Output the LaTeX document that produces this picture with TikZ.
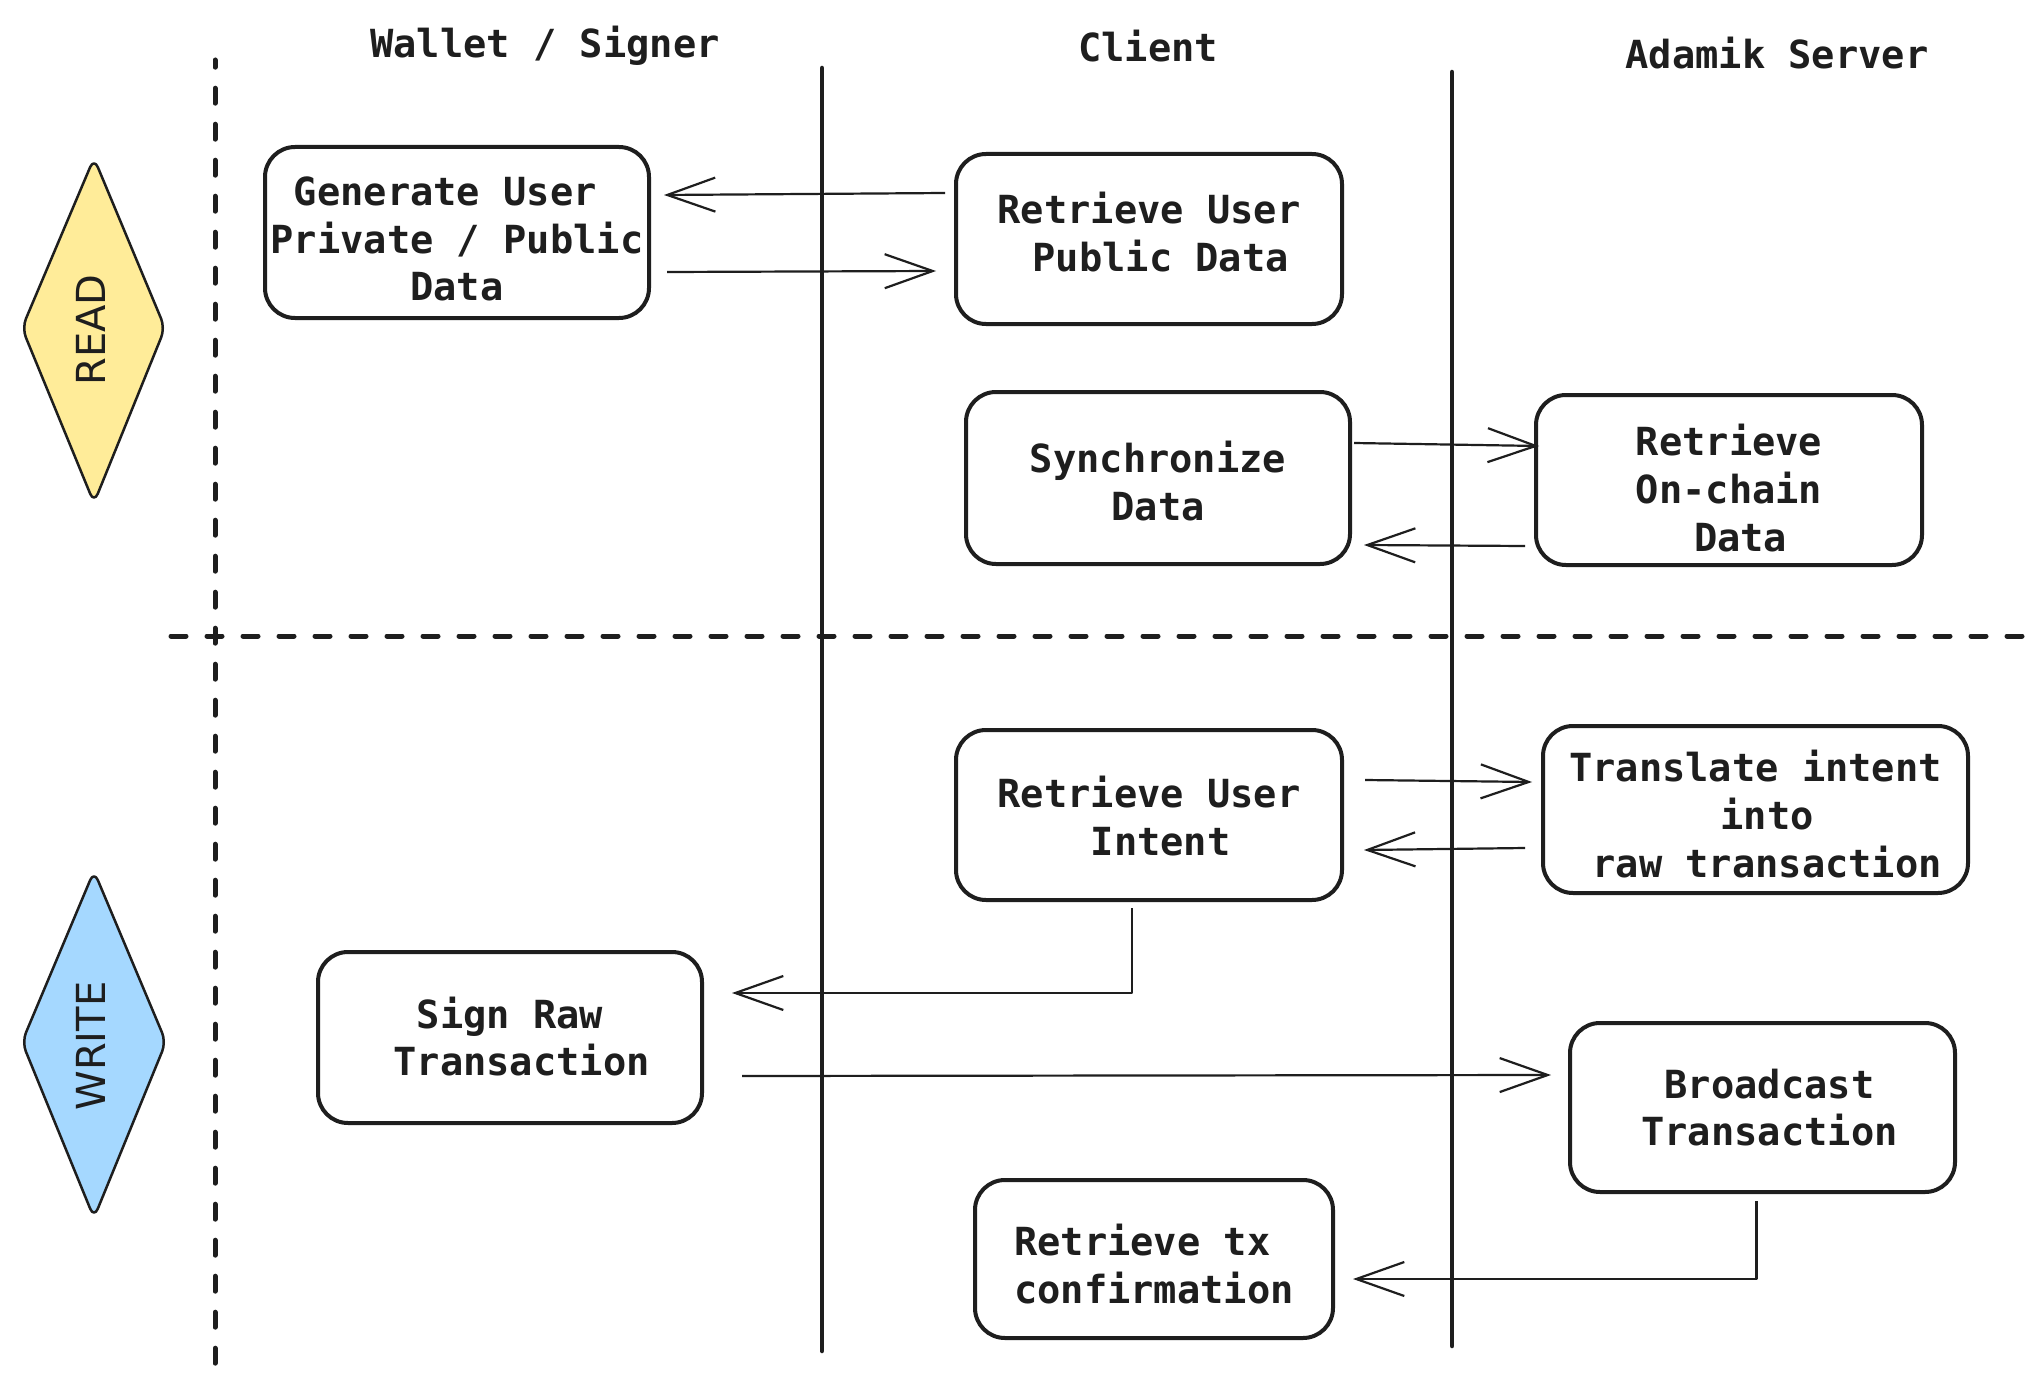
\documentclass[tikz,border=0pt]{standalone}
\usepackage{fontspec}
\setmainfont{DejaVu Sans}
\setmonofont{DejaVu Sans Mono}
\usetikzlibrary{arrows.meta,calc}
\definecolor{ink}{HTML}{1E1E1E}
\definecolor{readfill}{HTML}{FFEC99}
\definecolor{writefill}{HTML}{A5D8FF}
\begin{document}
\begin{tikzpicture}[x=1pt,y=-1pt,
  every node/.style={text=ink},
  box/.style={draw=ink, line width=4pt, rounded corners=30pt, inner sep=0pt},
  boxtext/.style={align=center, inner sep=0pt,
    font=\ttfamily\bfseries\fontsize{38.7}{47.6}\selectfont},
  lanetitle/.style={font=\ttfamily\bfseries\fontsize{38.7}{47.6}\selectfont},
  lane/.style={draw=ink, line width=4.5pt, line cap=round},
  vsep/.style={draw=ink, line width=5pt, line cap=round, dash pattern=on 15pt off 21pt, dash phase=7.8pt},
  hsep/.style={draw=ink, line width=5pt, line cap=round, dash pattern=on 15pt off 21pt},
  arr/.style={draw=ink, line width=2.2pt, line join=round,
    -{Straight Barb[length=48pt,width=34pt,line width=2.2pt]}},
  phase/.style={draw=ink, line width=2.5pt, rounded corners=10pt, line join=round},
  phasetext/.style={font=\fontsize{40}{48}\selectfont, rotate=90}
]
\fill[white] (0,0) rectangle (2043,1383);
\useasboundingbox (0,0) rectangle (2043,1383);

% lanes
\draw[vsep] (215,60) -- (215,1364);
\draw[hsep] (171,636) -- (2026,636);
\draw[lane] (822,68) -- (822,1351);
\draw[lane] (1452,72) -- (1452,1346);

% titles
\node[lanetitle] (t1) at (545,46) {Wallet / Signer};
\node[lanetitle] (t2) at (1148,46) {Client};
\node[lanetitle] (t3) at (1777,53) {Adamik Server};

% phases
\draw[phase, fill=readfill] (94,158) -- (165,328) -- (94,503) -- (22,328) -- cycle;
\node[phasetext] (readlbl) at (91,330) {READ};
\draw[phase, fill=writefill] (94,871) -- (166,1042) -- (94,1218) -- (22,1042) -- cycle;
\node[phasetext] (writelbl) at (91,1046) {WRITE};

% boxes
\node[box, minimum width=384pt, minimum height=171pt] (gen) at (457,232.5) {};
\node[boxtext] (gen-t) at ([shift={(0,6.5)}]gen.center)
  {Generate User\hphantom{x}\\Private / Public\\Data};
\node[box, minimum width=386pt, minimum height=170pt] (rpub) at (1149,239) {};
\node[boxtext] (rpub-t) at ([shift={(0,-7)}]rpub.center)
  {Retrieve User\\\hphantom{x}Public Data};
\node[box, minimum width=384pt, minimum height=172pt] (sync) at (1158,478) {};
\node[boxtext] (sync-t) at ([shift={(0,3)}]sync.center)
  {Synchronize\\Data};
\node[box, minimum width=386pt, minimum height=170pt] (onchain) at (1729,480) {};
\node[boxtext] (onchain-t) at ([shift={(0,8)}]onchain.center)
  {Retrieve\\On-chain\\\hphantom{x}Data};
\node[box, minimum width=386pt, minimum height=170pt] (intent) at (1149,815) {};
\node[boxtext] (intent-t) at ([shift={(0,1)}]intent.center)
  {Retrieve User\\\hphantom{x}Intent};
\node[box, minimum width=425pt, minimum height=167pt] (translate) at (1755.5,809.5) {};
\node[boxtext] (translate-t) at ([shift={(0,4.5)}]translate.center)
  {Translate intent\\\hphantom{x}into\\\hphantom{x}raw transaction};
\node[box, minimum width=384pt, minimum height=171pt] (sign) at (510,1037.5) {};
\node[boxtext] (sign-t) at ([shift={(0,-1)}]sign.center)
  {Sign Raw\\\hphantom{x}Transaction};
\node[box, minimum width=385pt, minimum height=169pt] (broadcast) at (1762.5,1107.5) {};
\node[boxtext] (broadcast-t) at ([shift={(7,0)}]broadcast.center)
  {Broadcast\\Transaction};
\node[box, minimum width=358pt, minimum height=158pt] (txconf) at (1154,1259) {};
\node[boxtext] (txconf-t) at ([shift={(0,5)}]txconf.center)
  {Retrieve tx\hphantom{x}\\confirmation};

% connectors
\draw[arr] ([shift={(-9,-46)}]rpub.west) -- ([shift={(13,-37.5)}]gen.east);
\draw[arr] ([shift={(16,39.5)}]gen.east) -- ([shift={(-18,32)}]rpub.west);
\draw[arr] ([shift={(2,-35)}]sync.east) -- ([shift={(5,-34)}]onchain.west);
\draw[arr] ([shift={(-9,66)}]onchain.west) -- ([shift={(12,67)}]sync.east);
\draw[arr] ([shift={(21,-35)}]intent.east) -- ([shift={(-9,-27.5)}]translate.west);
\draw[arr] ([shift={(-16,38.5)}]translate.west) -- ([shift={(20,35)}]intent.east);
\draw[arr] ([shift={(-17,6)}]intent.south) |- ([shift={(28,-44.5)}]sign.east);
\draw[arr] ([shift={(38,38.5)}]sign.east) -- ([shift={(-17,-32.5)}]broadcast.west);
\draw[arr] ([shift={(-6,7)}]broadcast.south) |- ([shift={(18,20)}]txconf.east);
\end{tikzpicture}
\end{document}
